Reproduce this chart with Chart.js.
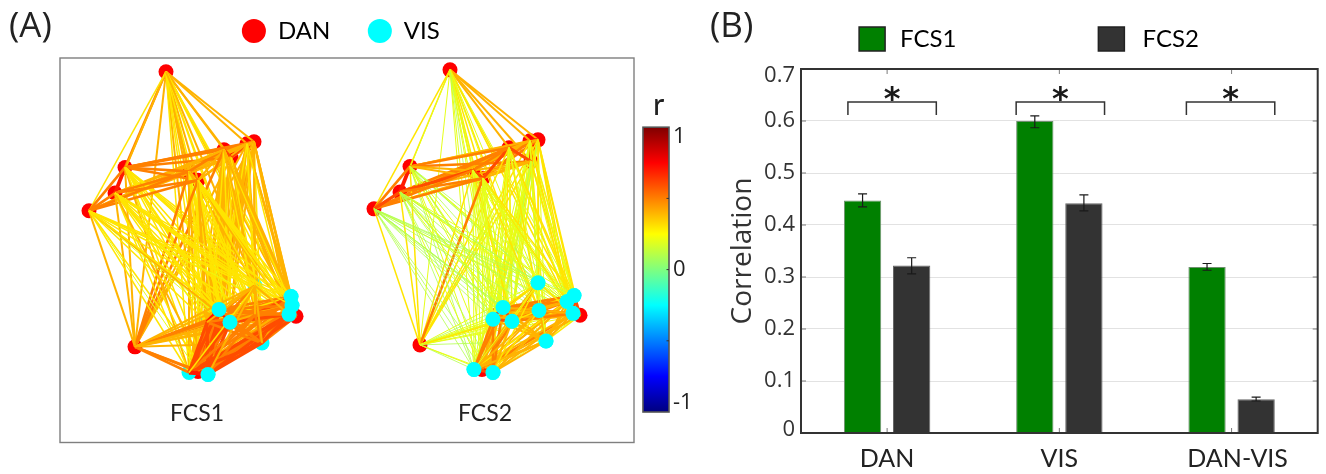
<!DOCTYPE html>
<html><head><meta charset="utf-8">
<script src="https://cdn.jsdelivr.net/npm/chart.js@4/dist/chart.umd.min.js"></script>
<style>
html,body{margin:0;padding:0;background:#fff;width:1326px;height:474px;overflow:hidden}
canvas{position:absolute;display:block;filter:blur(0.4px)}
.t{position:absolute;color:#222;white-space:nowrap;line-height:1}
</style></head><body>
<canvas id="net" width="680" height="450" style="left:0;top:0;width:680px;height:450px"></canvas>
<canvas id="cb" width="60" height="320" style="left:640px;top:110px;width:60px;height:320px"></canvas>
<canvas id="bars" width="606" height="474" style="left:726px;top:0;width:606px;height:474px"></canvas>
<div class="t" style="left:9px;top:0px;font:35px 'Open Sans'">(A)</div>
<div class="t" style="left:710px;top:0px;font:35px 'Open Sans'">(B)</div>
<div class="t" style="left:653px;top:84px;font:31px Lato">r</div>
<script>
// ---------- Panel B data ----------
const categories=['DAN','VIS','DAN-VIS'];
const fcs1Values=[0.447,0.600,0.319];
const fcs2Values=[0.322,0.442,0.065];
const fcs1High=[0.460,0.610,0.326];
const fcs1Low=[0.435,0.587,0.313];
const fcs2High=[0.337,0.458,0.069];
const fcs2Low=[0.306,0.427,0.0615];
const yTickLabels=['0','0.1','0.2','0.3','0.4','0.5','0.6','0.7'];
const yTickSpots=[0.006,0.1,0.2,0.3,0.4,0.5,0.6,0.687];
const xTickSpots=[0,1,2.035];
const bracketTop=0.6365, bracketFoot=0.6115, starValue=0.655;
const bracketLeftPad=[4,0,-2], bracketRightPad=[6,2,0];
// ---------- Panel A node positions (picture coordinates), DAN 0-14, VIS 15-25 ----------
const xFCS1=[166,254,247,231,224,125,189,198,115,89,135,296,215,223,198, 291,292,289,219,207,230,255,262,189,208,255];
const yFCS1=[71,142,144,158,150,168,172,181,194,212,350,319,320,322,375, 299,308,317,312,325,325,317,346,376,378,288];
const xFCS2=[450,538,530,531,509,410,473,483,400,374,420,580,496,512,482, 574,567,573,503,493,512,539,546,474,493,538];
const yFCS2=[69,140,141,162,148,167,171,179,193,210,348,318,318,319,373, 298,304,316,310,322,324,313,344,373,376,285];
const visOnTopFCS1=[15,16,17,18,20,24];
const visOnTopFCS2=[15,16,17,18,19,20,21,22,23,24,25];
// Edge strength r x 10, upper triangle, row i lists partners i+1..25
const edgesFCS1=[
"44445444344444 33343333334","6555444444444 44454443344","655444444344 44344434433","65544444444 44434334443",
"5544454444 43444343434","557543333 33333333433","55554334 33433233434","5553433 33334333343","543333 33333333343",
"42222 33333433333","4555 44445444554","556 66654555563","76 55566655665","6 55565665665"," 55555655775",
"6653564553","654555453","55656664","7755664","655664","45664","5554","664","73","4"];
const edgesFCS2=[
"44443332323232 21322232212","7654554433333 33333232313","654454433222 23322223222","65444432222 22322212212",
"5565533233 33232223222","447532222 12122112121","66532222 22222322222","5552222 33222232222","632222 21221111111",
"32111 11111111111","2232 22212231122","324 65554433422","74 54533443434","5 54543444434"," 44544344675",
"7653544432","654544342","54544443","7644553","644553","34443","4432","442","62","3"];
const danLabel='DAN', visLabel='VIS', netNames=['FCS1','FCS2'], netNameX=[197,485], netNameY=418;
// ---------- Colour bar ----------
const jetStops=[[0,'#00007f'],[0.125,'#0000ff'],[0.375,'#00ffff'],[0.5,'#7fff7f'],[0.625,'#ffff00'],[0.875,'#ff0000'],[1,'#7f0000']];
const cbSpots=[0.93,0,-0.937], cbLabels=['1','0','-1'], cbInnerTicks=[0.5,0,-0.5];

function jet(r){
  const p=(r+1)/2; let i=0; while(i<jetStops.length-2&&p>jetStops[i+1][0])i++;
  const [a,ca]=jetStops[i],[b,cb]=jetStops[i+1], t=(p-a)/(b-a);
  const n=h=>[1,3,5].map(k=>parseInt(h.substr(k,2),16));
  const A=n(ca),B=n(cb);
  return 'rgb('+A.map((v,k)=>Math.round(v+(B[k]-v)*t)).join(',')+')';
}
const edgeWidth=[0,0.8,1,1.5,2,2.6,3.2,3.8,4.4,5];
function legendGap(n){return {id:'legendGap',beforeInit(c){const f=c.legend.fit;c.legend.fit=function(){f.call(this);this.height+=n;};}};}

// Panel A datasets
function edgeSets(xs,ys,rows,start){
  const out=[];let k=start;
  rows.forEach((row,i)=>{
    row.replace(/ /g,'').split('').forEach((d,n)=>{
      const j=i+1+n, v=+d;
      out.push({type:'line',data:[{x:xs[i],y:ys[i]},{x:xs[j],y:ys[j]}],borderColor:jet(v/10),borderWidth:edgeWidth[v],
        pointRadius:0,fill:false,tension:0,order:5000-k,borderCapStyle:'butt'});
      k++;
    });
  });
  return out;
}
function nodeSet(label,xs,ys,idx,color,order){
  return {type:'scatter',label,data:idx.map(i=>({x:xs[i],y:ys[i]})),backgroundColor:color,borderColor:color,pointRadius:7.5,borderWidth:0,pointHoverRadius:7.5,pointStyle:'circle',order};
}
const dIdx=[...Array(15).keys()], vIdx=[...Array(11).keys()].map(i=>i+15);
const netSets=[
  nodeSet(danLabel,xFCS1,yFCS1,dIdx,'#ff0000',9000),
  nodeSet(visLabel,xFCS1,yFCS1,vIdx,'#00ffff',8000),
  nodeSet(danLabel,xFCS2,yFCS2,dIdx,'#ff0000',9000),
  nodeSet(visLabel,xFCS2,yFCS2,vIdx,'#00ffff',8000),
  ...edgeSets(xFCS1,yFCS1,edgesFCS1,0),
  ...edgeSets(xFCS2,yFCS2,edgesFCS2,1000),
  nodeSet(visLabel,xFCS1,yFCS1,visOnTopFCS1,'#00ffff',1),
  nodeSet(visLabel,xFCS2,yFCS2,visOnTopFCS2,'#00ffff',1)
];
const netFrame={id:'netFrame',afterDraw(c){
  const a=c.chartArea,x=c.ctx;x.save();x.strokeStyle='#7f7f7f';x.lineWidth=1.4;
  x.strokeRect(a.left,a.top,a.width,a.height);
  x.fillStyle='#222';x.font="23px Lato";x.textAlign='center';x.textBaseline='middle';
  netNames.forEach((t,i)=>x.fillText(t,c.scales.x.getPixelForValue(netNameX[i]),c.scales.y.getPixelForValue(netNameY)));
  x.restore();}};
new Chart(document.getElementById('net'),{
  type:'scatter',data:{datasets:netSets},plugins:[netFrame,legendGap(5)],
  options:{responsive:false,animation:false,events:[],
    layout:{padding:{left:60,right:46,top:6,bottom:3}},
    scales:{x:{type:'linear',min:60,max:634,display:false},y:{type:'linear',min:57,max:447,reverse:true,display:false}},
    plugins:{tooltip:{enabled:false},title:{display:false},
      legend:{display:true,position:'top',labels:{color:'#222',font:{family:'Lato',size:24},usePointStyle:true,boxWidth:24,boxHeight:17,padding:13,
        generateLabels:()=>[
          {text:danLabel+'\u00a0\u00a0\u00a0\u00a0',fillStyle:'#ff0000',strokeStyle:'#ff0000',lineWidth:0,pointStyle:'circle',datasetIndex:0},
          {text:visLabel+'\u00a0\u00a0',fillStyle:'#00ffff',strokeStyle:'#00ffff',lineWidth:0,pointStyle:'circle',datasetIndex:1}]}}}}
});

// Colour bar
const cbFrame={id:'cbFrame',afterDraw(c){
  const a=c.chartArea,x=c.ctx,s=c.scales.y;x.save();x.strokeStyle='#555';x.lineWidth=1.6;
  x.strokeRect(a.left,a.top,a.width,a.height);
  x.lineWidth=1;x.strokeStyle='#333';
  cbInnerTicks.forEach(v=>{const p=s.getPixelForValue(v);x.beginPath();x.moveTo(a.right,p);x.lineTo(a.right-2.5,p);x.stroke();});
  x.restore();}};
new Chart(document.getElementById('cb'),{
  type:'bar',plugins:[cbFrame],
  data:{labels:['r'],datasets:[{data:[[-1,1]],barPercentage:1,categoryPercentage:1,borderWidth:0,
    backgroundColor(ctx){const a=ctx.chart.chartArea;if(!a)return '#888';
      const g=ctx.chart.ctx.createLinearGradient(0,a.bottom,0,a.top);jetStops.forEach(s=>g.addColorStop(s[0],s[1]));return g;}}]},
  options:{responsive:false,animation:false,events:[],
    layout:{padding:{left:3,right:0,top:15,bottom:18}},
    scales:{x:{display:false},
      y:{position:'right',min:-1,max:1,grid:{display:false,drawTicks:false},border:{display:false},
        afterBuildTicks(s){s.ticks=cbSpots.map(value=>({value}));},
        afterFit(s){s.width=31;},
        ticks:{padding:4,color:'#222',font:{family:'Open Sans',size:22},callback:(v,i)=>cbLabels[i]}}},
    plugins:{legend:{display:false},tooltip:{enabled:false}}}
});

// Panel B
const barExtras={id:'barExtras',afterDatasetsDraw(c){
  const x=c.ctx,a=c.chartArea,Y=c.scales.y,X=c.scales.x;x.save();
  // error bars
  x.strokeStyle='#1a1a1a';x.lineWidth=1.2;
  [[0,fcs1High,fcs1Low],[1,fcs2High,fcs2Low]].forEach(([d,hi,lo])=>{
    c.getDatasetMeta(d).data.forEach((b,i)=>{
      const t=Y.getPixelForValue(hi[i]),u=Y.getPixelForValue(lo[i]);
      x.beginPath();x.moveTo(b.x,t);x.lineTo(b.x,u);
      x.moveTo(b.x-4.5,t);x.lineTo(b.x+4.5,t);x.moveTo(b.x-4.5,u);x.lineTo(b.x+4.5,u);x.stroke();});
  });
  // brackets and stars
  const g=c.getDatasetMeta(0).data,k=c.getDatasetMeta(1).data;
  categories.forEach((_,i)=>{
    const l=g[i].x-g[i].width/2+bracketLeftPad[i],r=k[i].x+k[i].width/2+bracketRightPad[i],t=Y.getPixelForValue(bracketTop),f=Y.getPixelForValue(bracketFoot);
    x.strokeStyle='#333';x.lineWidth=1.5;
    x.beginPath();x.moveTo(l,f);x.lineTo(l,t);x.lineTo(r,t);x.lineTo(r,f);x.stroke();
    x.fillStyle='#1a1a1a';x.font="bold 32px 'DejaVu Sans'";x.textAlign='center';x.textBaseline='middle';
    x.fillText('*',(l+r)/2,Y.getPixelForValue(starValue)+8);
  });
  x.restore();},
 afterDraw(c){
  const x=c.ctx,a=c.chartArea,Y=c.scales.y,X=c.scales.x;x.save();
  x.strokeStyle='#7a7a7a';x.lineWidth=1;
  yTickSpots.slice(1,-1).forEach(v=>{const p=Y.getPixelForValue(v);x.beginPath();x.moveTo(a.left,p);x.lineTo(a.left+5,p);x.moveTo(a.right,p);x.lineTo(a.right-5,p);x.stroke();});
  categories.forEach((_,i)=>{const p=X.getPixelForValue(i);x.beginPath();x.moveTo(p,a.top);x.lineTo(p,a.top+5);x.moveTo(p,a.bottom);x.lineTo(p,a.bottom-5);x.stroke();});
  x.strokeStyle='#333';x.lineWidth=2;x.strokeRect(a.left,a.top,a.width,a.height);
  x.restore();}};
new Chart(document.getElementById('bars'),{
  type:'bar',plugins:[barExtras,legendGap(8)],
  data:{labels:categories,datasets:[
    {label:'FCS1',data:fcs1Values,backgroundColor:'#008000',borderColor:'#6f8f6f',borderWidth:1,categoryPercentage:0.57,barPercentage:0.76,yAxisID:'y'},
    {label:'FCS2',data:fcs2Values,backgroundColor:'#333333',borderColor:'#666666',borderWidth:1,categoryPercentage:0.57,barPercentage:0.76,yAxisID:'y'}]},
  options:{responsive:false,animation:false,events:[],
    layout:{padding:{left:0,right:0,top:8,bottom:0}},
    scales:{
      x:{grid:{display:false},border:{display:false},
        afterBuildTicks(s){s.ticks=xTickSpots.map(value=>({value}));},
        ticks:{color:'#222',font:{family:'Lato',size:25},padding:3,maxRotation:0,autoSkip:false,callback:(v,i)=>categories[i]},afterFit(s){s.height=41;}},
      y:{min:0,max:0.7,border:{display:false},
        afterBuildTicks(s){s.ticks=yTickSpots.map(value=>({value}));},
        afterFit(s){s.width=75;},
        grid:{drawTicks:false,color:c=>(c.index===0||c.index===yTickSpots.length-1)?'rgba(0,0,0,0)':'#e2e2e2',lineWidth:1},
        ticks:{padding:6,color:'#333',font:{family:'Open Sans',size:22},callback:(v,i)=>yTickLabels[i]},
        title:{display:true,text:'Correlation',color:'#333',font:{family:'Open Sans',size:28},padding:{top:0,bottom:0}}},
      rightSpacer:{position:'right',display:true,grid:{display:false},border:{display:false},ticks:{display:false},afterFit(s){s.width=14.3;}}},
    plugins:{tooltip:{enabled:false},
      legend:{display:true,position:'top',labels:{color:'#222',font:{family:'Lato',size:24},boxWidth:26,boxHeight:24,padding:19,
        generateLabels:()=>[
          {text:'\u2009FCS1'+'\u00a0'.repeat(20),fillStyle:'#008000',strokeStyle:'#222',lineWidth:1.5,datasetIndex:0},
          {text:'\u00a0FCS2',fillStyle:'#333333',strokeStyle:'#222',lineWidth:1.5,datasetIndex:1}]}}}}
});
</script></body></html>
